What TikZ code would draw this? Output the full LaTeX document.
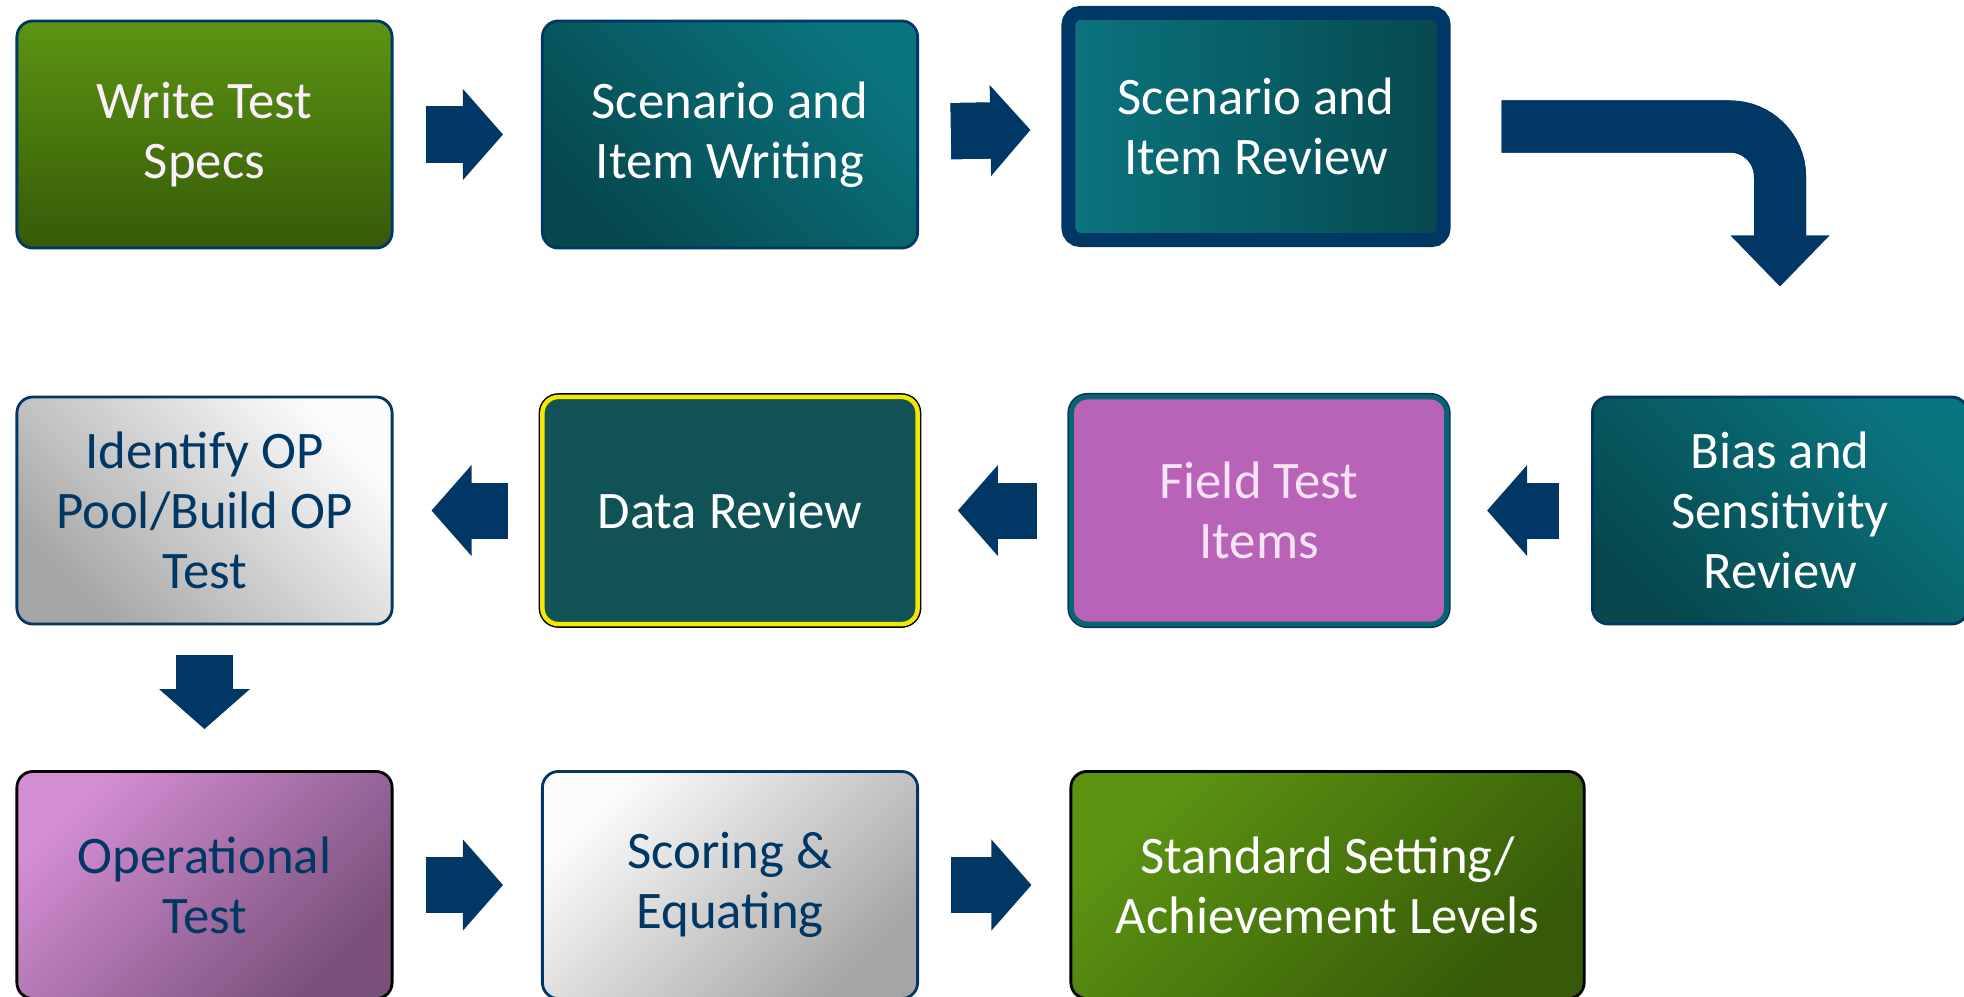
\documentclass[tikz,border=0pt]{standalone}
\usepackage{fontspec}
\setmainfont{Carlito}
\usepackage{tikz}
\usetikzlibrary{arrows.meta, positioning, calc}
\definecolor{Navy}{RGB}{0, 55, 100}
\definecolor{GreenTop}{RGB}{92, 148, 18}
\definecolor{GreenBot}{RGB}{54, 90, 8}
\definecolor{TealLight}{RGB}{10, 116, 126}
\definecolor{TealDark}{RGB}{6, 72, 78}
\definecolor{DataTeal}{RGB}{16, 82, 86}
\definecolor{FieldPurple}{RGB}{184, 98, 184}
\definecolor{FieldEdge}{RGB}{10, 100, 110}
\definecolor{OpLight}{RGB}{212, 142, 212}
\definecolor{OpDark}{RGB}{120, 80, 122}
\definecolor{GrayLight}{RGB}{252, 252, 252}
\definecolor{GrayDark}{RGB}{165, 165, 165}
\definecolor{PaleText}{RGB}{246, 228, 246}
\tikzset{
  stage/.style={rectangle, rounded corners=0.16cm, minimum width=3.75cm,
    minimum height=2.27cm, align=center, draw=Navy, line width=0.8pt,
    font=\fontsize{15}{17}\selectfont, text=white},
  teal/.style={stage, bottom color=TealDark, top color=TealLight, shading angle=-45},
  silver/.style={stage, text=Navy},
  blk/.style={-{Triangle[length=0.4cm, width=0.91cm, line width=0pt]},
    line width=0.56cm, color=Navy, shorten <=0.32cm, shorten >=0.38cm,
    postaction={draw, -, shorten >=0.74cm}},
  bent/.style={-{Triangle[length=0.51cm, width=0.99cm, line width=0pt]},
    line width=0.52cm, color=Navy, rounded corners=0.5cm,
    shorten <=0.51cm, shorten >=1.09cm,
    postaction={draw, -, shorten >=1.56cm}},
}

\begin{document}
\begin{tikzpicture}[x=0.01cm, y=-0.01cm]
  \useasboundingbox (0,0) rectangle (1964,996);
  % row 1
  \node[stage, top color=GreenTop, bottom color=GreenBot, text=PaleText!60!white]
    (spec) at (204.5,134.5) {Write Test\\Specs};
  \node[teal] (write) at (730,134.5) {Scenario and\\Item Writing};
  \node[stage, left color=TealLight, right color=TealDark, line width=0.14cm,
        rounded corners=0.12cm] (rev) at (1256,126.5) {Scenario and\\Item Review};
  % row 2
  \node[teal] (bias) at (1780,510.5) {Bias and\\Sensitivity\\Review};
  \node[stage, fill=FieldPurple, draw=FieldEdge, line width=0.05cm, text=PaleText,
        preaction={draw=Navy, line width=0.08cm}] (field) at (1259,510.5) {Field Test\\Items};
  \node[stage, fill=DataTeal, draw=yellow!90!olive, line width=0.045cm,
        preaction={draw=black, line width=0.075cm}] (data) at (730,510.5) {Data Review};
  \node[silver, bottom color=GrayDark, top color=GrayLight, shading angle=-45]
    (pool) at (204.5,510.5) {Identify OP\\Pool/Build OP\\Test};
  % row 3
  \node[silver, draw=black, bottom color=OpDark, top color=OpLight, shading angle=45]
    (oper) at (204.5,885) {Operational\\Test};
  \node[silver, bottom color=GrayDark, top color=GrayLight, shading angle=45]
    (score) at (730,885) {Scoring \&\\Equating};
  \node[stage, draw=black, minimum width=5.13cm, bottom color=GreenBot,
        top color=GreenTop, shading angle=45] (std) at (1327.5,885)
    {Standard Setting/\\Achievement Levels};
  % block arrows
  \draw[blk] (spec) -- (write);
  \draw[blk, shorten >=0.31cm, postaction={draw, -, shorten >=0.67cm}] (write) -- (rev);
  \draw[bent] (rev.east) -- (rev.east -| bias.north) -- (bias.north);
  \draw[blk] (bias) -- (field);
  \draw[blk] (field) -- (data);
  \draw[blk] (data) -- (pool);
  \draw[blk, shorten <=0.29cm, shorten >=0.41cm, postaction={draw, -, shorten >=0.77cm}]
    (pool) -- (oper);
  \draw[blk] (oper) -- (score);
  \draw[blk] (score) -- (std);
\end{tikzpicture}
\end{document}
